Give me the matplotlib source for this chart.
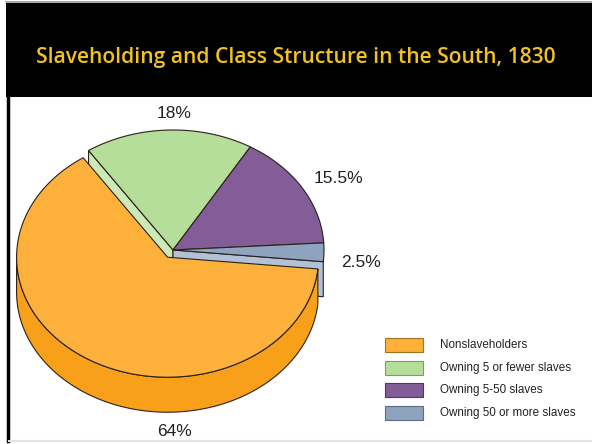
import numpy as np
import matplotlib.pyplot as plt
from matplotlib.patches import Polygon, Rectangle

# data
labels = ["Nonslaveholders", "Owning 5 or fewer slaves",
          "Owning 5-50 slaves", "Owning 50 or more slaves"]
shares = [64, 18, 15.5, 2.5]
pct_text = ["64%", "18%", "15.5%", "2.5%"]
top_colors = ["#FDB03A", "#B4DE99", "#835D97", "#8EA3BE"]
side_colors = ["#F9A01B", "#CBEAB7", "#6E4C80", "#B2C1D5"]
explode = [0.07, 0, 0, 0]

title = "Slaveholding and Class Structure in the South, 1830"

# pie geometry (pixel space)
cx, cy = 173, 250
rx, ry = 151, 120
depth = 35
start = -5.6  # degrees, slices run clockwise from here

fig = plt.figure(figsize=(5.92, 4.44), dpi=100)
ax = fig.add_axes([0, 0, 1, 1])
ax.set_xlim(0, 592)
ax.set_ylim(444, 0)
ax.axis("off")

# header band
ax.add_patch(Rectangle((6, 3), 586, 94, facecolor="black", edgecolor="none"))
ax.plot([6, 592], [2.5, 2.5], color="#9a9a9a", lw=1.2)
ax.plot([7.5, 7.5], [97, 441], color="black", lw=2.5)
ax.plot([9, 592], [441, 441], color="#e2e2e2", lw=1.5)
ax.text(296, 57, title, ha="center", va="center", color="#F2C318",
        fontsize=15.1, family="Open Sans", fontweight="semibold")


def pt(theta, ox, oy, dz=0):
    t = np.radians(theta)
    return cx + ox + rx * np.cos(t), cy + oy - ry * np.sin(t) + dz


def arc(a0, a1, ox, oy, dz=0, n=120):
    th = np.linspace(a0, a1, n)
    xs, ys = pt(th, ox, oy, dz)
    return list(zip(xs, ys))


# slice angle ranges (clockwise from start)
fracs = np.array(shares) / sum(shares) * 360
ranges = []
a = start
for f in fracs:
    ranges.append((a - f, a))  # ccw ordered (lo, hi)
    a -= f

offsets = []
for (lo, hi), e in zip(ranges, explode):
    mid = np.radians((lo + hi) / 2)
    offsets.append((e * rx * np.cos(mid), -e * ry * np.sin(mid)))

ec = "#2b2118"
lw = 0.8

# body that stays in place: exposed cut faces and front rim
for i in range(1, len(shares)):
    lo, hi = ranges[i]
    ox, oy = offsets[i]
    for ang in (lo, hi):
        # faces next to the exploded slice
        neighbour_lo = ranges[0][0] % 360
        neighbour_hi = ranges[0][1] % 360
        if np.isclose(ang % 360, neighbour_lo) or np.isclose(ang % 360, neighbour_hi):
            p = pt(ang, ox, oy)
            c = (cx + ox, cy + oy)
            poly = [c, p, (p[0], p[1] + depth), (c[0], c[1] + depth)]
            ax.add_patch(Polygon(poly, closed=True, facecolor=side_colors[i],
                                 edgecolor=ec, lw=lw))
    # front rim
    s, e = max(lo, -180), min(hi, 0)
    if s < e:
        top = arc(s, e, ox, oy)
        bot = arc(e, s, ox, oy, depth)
        ax.add_patch(Polygon(top + bot, closed=True, facecolor=side_colors[i],
                             edgecolor=ec, lw=lw))

for i in range(1, len(shares)):
    lo, hi = ranges[i]
    ox, oy = offsets[i]
    poly = [(cx + ox, cy + oy)] + arc(lo, hi, ox, oy)
    ax.add_patch(Polygon(poly, closed=True, facecolor=top_colors[i],
                         edgecolor=ec, lw=lw))

# exploded slice last
lo, hi = ranges[0]
ox, oy = offsets[0]
s, e = max(lo, -180), min(hi, 0)
top = arc(s, e, ox, oy)
bot = arc(e, s, ox, oy, depth)
ax.add_patch(Polygon(top + bot, closed=True, facecolor=side_colors[0],
                     edgecolor=ec, lw=lw))
poly = [(cx + ox, cy + oy)] + arc(lo, hi, ox, oy)
ax.add_patch(Polygon(poly, closed=True, facecolor=top_colors[0],
                     edgecolor=ec, lw=lw))

# percentage labels
label_pos = [(174, 431), (174, 113), (338, 178), (361, 262)]
for (x, y), t in zip(label_pos, pct_text):
    ax.text(x, y, t, ha="center", va="center", fontsize=12.5,
            family="Liberation Sans", color="#222222")

# legend
edge_cols = ["#a8731f", "#7d9c6a", "#4f3560", "#5d6c80"]
for k, (lab, col) in enumerate(zip(labels, top_colors)):
    y = 345 + k * 22.5
    ax.add_patch(Rectangle((385, y - 7), 38, 14, facecolor=col,
                           edgecolor=edge_cols[k], lw=0.8))
    ax.text(440, y, lab, ha="left", va="center", fontsize=8.35,
            family="Liberation Sans", color="#222222")

fig.savefig("out.png", dpi=100)
